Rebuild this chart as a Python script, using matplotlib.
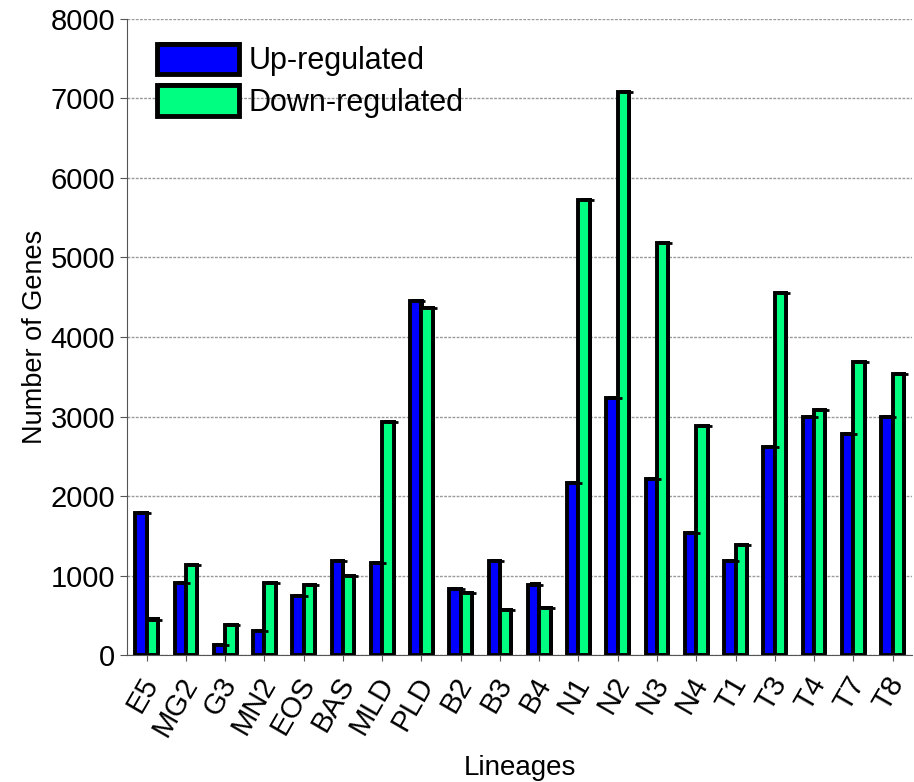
import matplotlib.pyplot as plt
import matplotlib.patheffects as pe
import matplotlib.transforms as mtransforms
import numpy as np

lineages = ['E5', 'MG2', 'G3', 'MN2', 'EOS', 'BAS', 'MLD', 'PLD', 'B2', 'B3',
            'B4', 'N1', 'N2', 'N3', 'N4', 'T1', 'T3', 'T4', 'T7', 'T8']
up_regulated = [1790, 910, 130, 310, 740, 1190, 1160, 4450, 830, 1190,
                890, 2170, 3230, 2220, 1540, 1190, 2620, 2990, 2780, 2990]
down_regulated = [450, 1130, 380, 910, 880, 1000, 2930, 4370, 780, 570,
                  590, 5720, 7080, 5180, 2880, 1390, 4550, 3080, 3690, 3540]

plt.rcParams['font.family'] = ['Liberation Sans', 'DejaVu Sans']

fig = plt.figure(figsize=(9.14, 7.82), dpi=100)
ax = fig.add_axes([0.139, 0.162, 0.859, 0.814])

x = np.arange(len(lineages))
w = 0.29
shadow = [pe.SimplePatchShadow(offset=(1.5, 1.5), shadow_rgbFace='k', alpha=1), pe.Normal()]

b1 = ax.bar(x - w / 2, up_regulated, w, color='#0000ff', edgecolor='k',
            linewidth=2.8, label='Up-regulated', zorder=3)
b2 = ax.bar(x + w / 2, down_regulated, w, color='#00ff80', edgecolor='k',
            linewidth=2.8, label='Down-regulated', zorder=3)
for bar in list(b1) + list(b2):
    bar.set_path_effects(shadow)

# short caps on top of each bar
for offs, vals in [(-w / 2, up_regulated), (w / 2, down_regulated)]:
    ax.hlines(vals, x + offs, x + offs + w / 2 + 0.1, colors='k', linewidth=2, zorder=4)

ax.set_xlim(-0.5, len(lineages) - 0.5)
ax.set_ylim(0, 8000)
ax.set_yticks(range(0, 8001, 1000))
ax.yaxis.grid(True, color='#999999', linewidth=1, linestyle=(0, (2, 1)), zorder=0)
ax.set_axisbelow(True)

for s in ['top', 'right']:
    ax.spines[s].set_visible(False)
ax.spines['left'].set_color('#555555')
ax.spines['bottom'].set_color('#555555')

ax.set_xticks(x)
ax.set_xticklabels(lineages, rotation=60, ha='right', rotation_mode='anchor', fontsize=21)
ax.tick_params(axis='y', labelsize=21, length=5, color='#555555')
ax.tick_params(axis='x', length=4, color='#555555', pad=8)
shift = mtransforms.ScaledTranslation(-5 / 72, 0, fig.dpi_scale_trans)
for lbl in ax.get_xticklabels():
    lbl.set_transform(lbl.get_transform() + shift)

ax.set_ylabel('Number of Genes', fontsize=19.5, labelpad=2)
ax.set_xlabel('Lineages', fontsize=20, labelpad=10)

leg = ax.legend(loc='upper left', bbox_to_anchor=(0.003, 1.004), frameon=False,
                fontsize=22, handlelength=2.7, handleheight=1.15,
                handletextpad=0.3, labelspacing=0.3)
for h in leg.legend_handles:
    h.set_linewidth(3.5)

fig.savefig('out.png', dpi=100)
